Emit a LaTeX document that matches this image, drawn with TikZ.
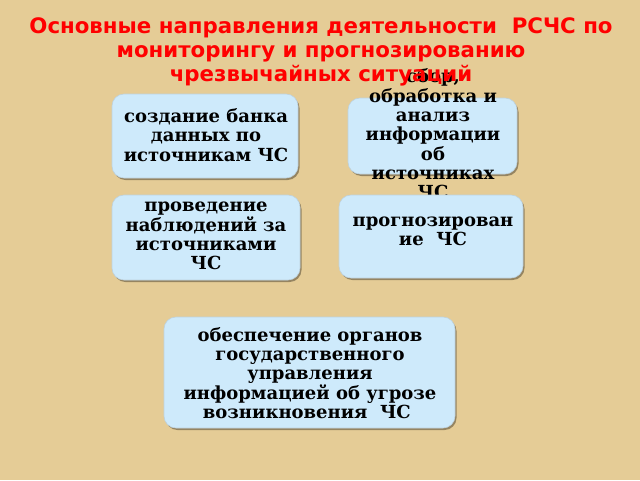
\documentclass[tikz,border=0pt]{standalone}
\usepackage{fontspec}
\setmainfont{DejaVu Serif}
\newfontfamily\titlefont{DejaVu Sans}
\usetikzlibrary{shadows}
\definecolor{bgtan}{RGB}{229,204,150}
\definecolor{boxblue}{RGB}{206,234,251}
\definecolor{boxline}{RGB}{190,210,222}
\definecolor{titlered}{RGB}{255,0,0}
\begin{document}
\begin{tikzpicture}[x=1pt,y=-1pt,
  panel/.style={draw=boxline, line width=0.6pt, fill=boxblue, rounded corners=12pt,
    inner sep=0pt, drop shadow={shadow xshift=1.5pt, shadow yshift=-2pt, opacity=0.35, fill=black}},
  btext/.style={align=center, inner sep=0pt, font=\fontsize{18}{19.3}\selectfont\bfseries, text=black},
  ttext/.style={align=center, inner sep=0pt, font=\fontsize{21.3}{24}\selectfont\titlefont\bfseries, text=titlered}
]
\fill[bgtan] (0,0) rectangle (640,480);
\useasboundingbox (0,0) rectangle (640,480);

% box 1
\node[panel, minimum width=186pt, minimum height=84pt] (b1) at (205,136) {};
\node[btext] (t1) at (206,135) {создание банка\\данных по\\источникам ЧС};

% box 2 (text overflows)
\node[panel, minimum width=169pt, minimum height=76pt] (b2) at (432.5,136) {};
\node[btext] (t2) at (433,134) {сбор,\\обработка и\\анализ\\информации\\об\\источниках\\ЧС};

% box 3
\node[panel, minimum width=188pt, minimum height=85pt] (b3) at (206,237.5) {};
\node[btext] (t3) at (206,236) {проведение\\наблюдений за\\источниками\\ЧС};

% box 4
\node[panel, minimum width=184pt, minimum height=83pt] (b4) at (431,236.5) {};
\node[btext] (t4) at (433,231) {прогнозирован\\ие~~ЧС};

% box 5
\node[panel, minimum width=291pt, minimum height=111pt] (b5) at (309.5,372.5) {};
\node[btext] (t5) at (310,373) {обеспечение органов\\государственного\\управления\\информацией об угрозе\\возникновения~~ЧС~~};

% title
\node[ttext] (title) at (321,52) {Основные направления деятельности~~РСЧС по\\мониторингу и прогнозированию\\чрезвычайных ситуаций};
\end{tikzpicture}
\end{document}
